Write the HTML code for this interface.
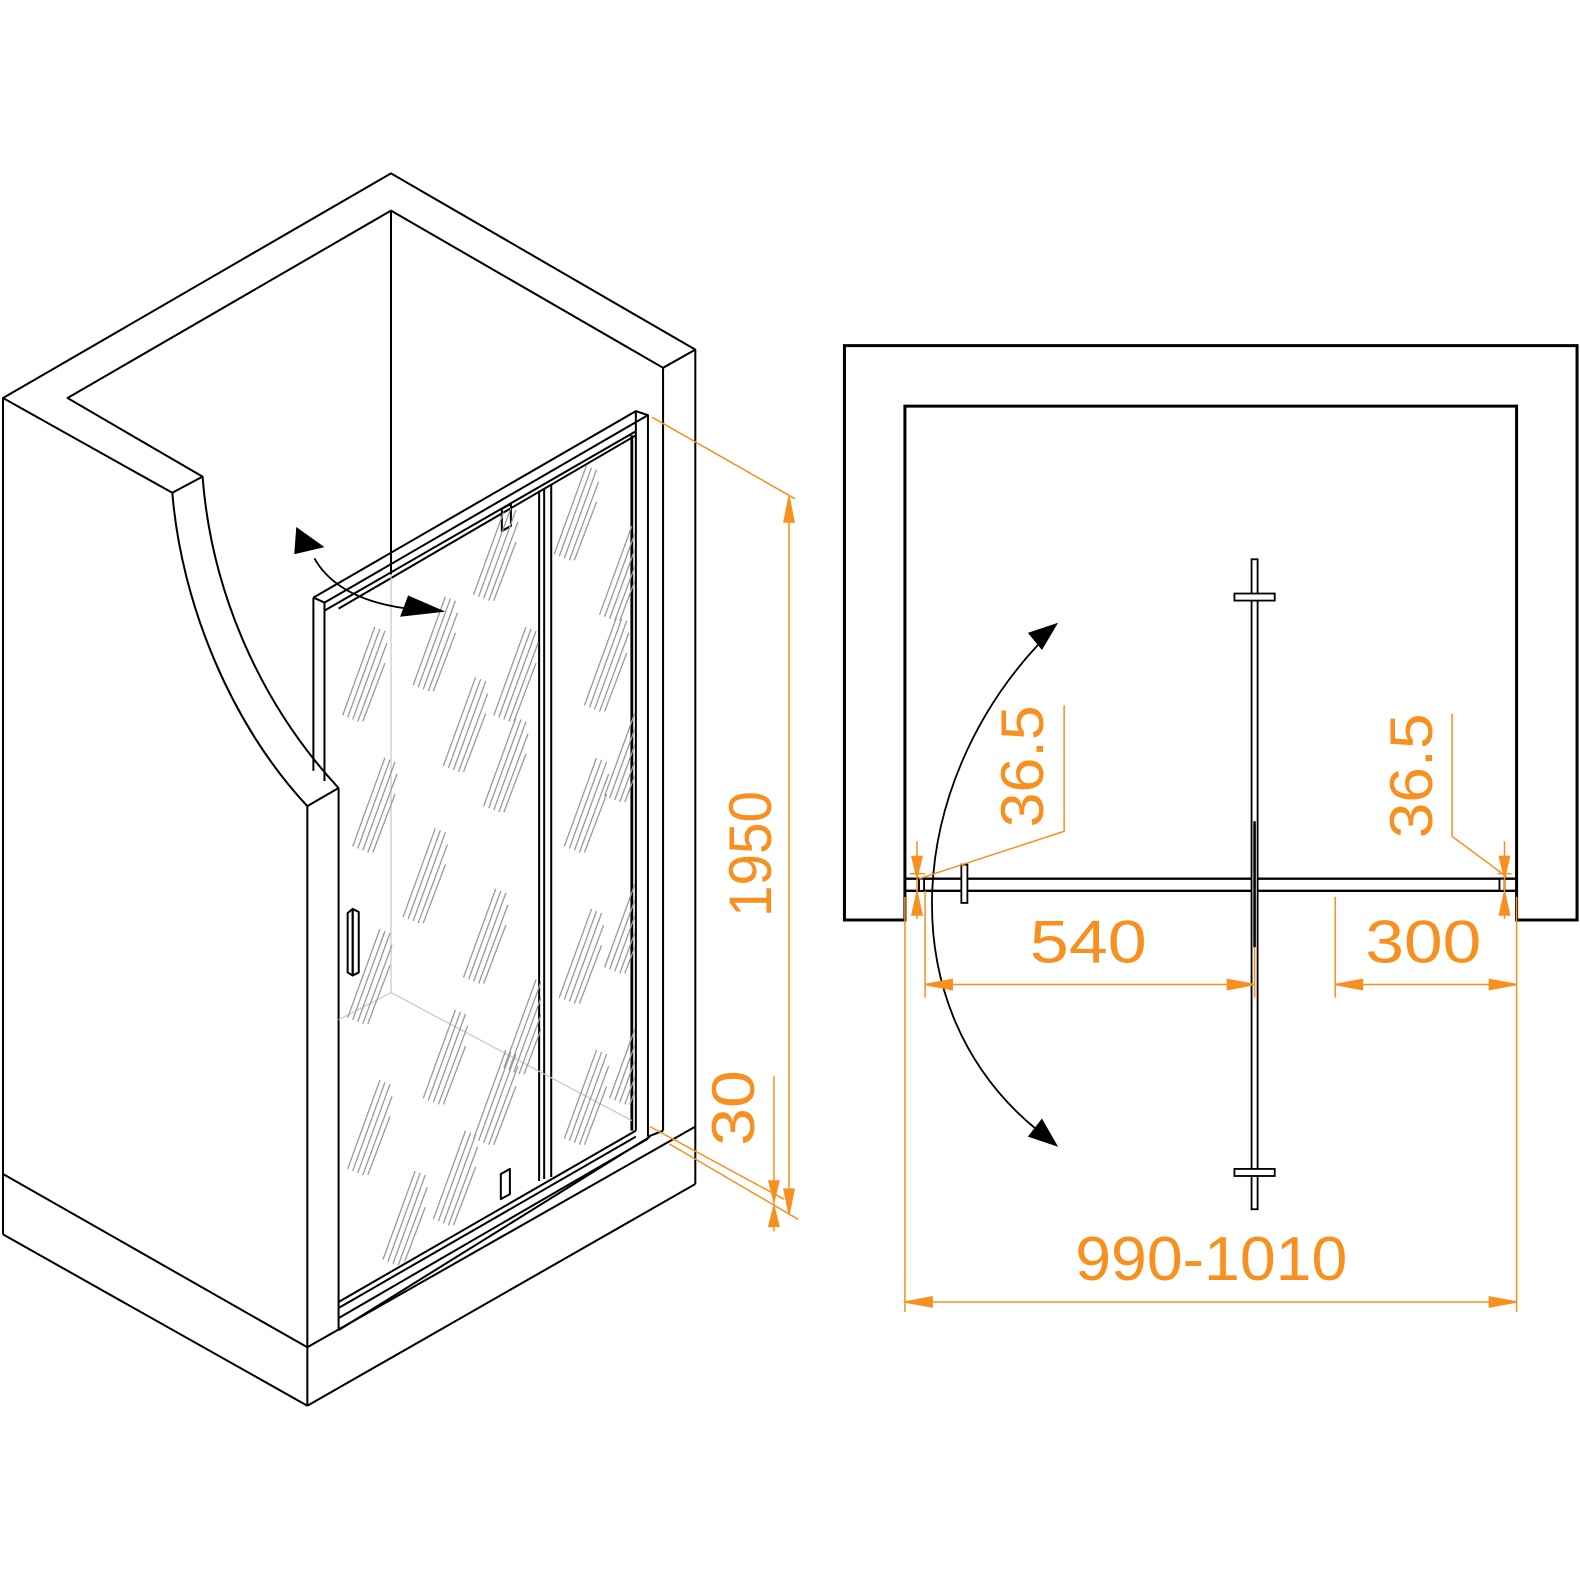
<!DOCTYPE html>
<html><head><meta charset="utf-8"><style>
html,body{margin:0;padding:0;background:#fff;}
svg{display:block;}
text{font-family:"Liberation Sans",sans-serif;fill:#f7901e;}
</style></head><body>
<svg width="1580" height="1580" viewBox="0 0 1580 1580" xmlns="http://www.w3.org/2000/svg">
<defs>
<g id="st" stroke="#9a9a9a" stroke-width="1.3">
<line x1="0" y1="0" x2="32" y2="-88"/><line x1="5" y1="2" x2="37" y2="-86"/><line x1="10" y1="4" x2="42" y2="-84"/><line x1="15" y1="6" x2="44" y2="-72"/><line x1="20" y1="6" x2="42" y2="-52"/>
</g>
<clipPath id="cl"><polygon points="337,602 537,487 537,1172 337,1290"/></clipPath>
<clipPath id="cr"><polygon points="547,481 630,433 630,1120 547,1166"/></clipPath>
</defs>
<g transform="scale(1.0077)">
<g fill="none" stroke="#000" stroke-width="2" stroke-linejoin="round">
<polyline points="3,1165 3,395 388,172 690,347 690,1175"/>
<polyline points="3,395 171,489 201,473 67,395 388,209 658,365 690,347"/>
<line x1="658" y1="365" x2="658" y2="1122"/>
<path d="M171,489 C180,600 230,720 305,800"/>
<path d="M201,473 C210,590 260,700 336,782"/>
<line x1="305" y1="800" x2="336" y2="782"/>
<line x1="305" y1="800" x2="305" y2="1395"/>
<line x1="336" y1="782" x2="336" y2="1320"/>
<line x1="388" y1="209" x2="388" y2="570"/>
<line x1="3" y1="1165" x2="3" y2="1225"/>
<line x1="3" y1="1165" x2="305" y2="1337"/>
<line x1="3" y1="1225" x2="305" y2="1395"/>
<line x1="305" y1="1395" x2="690" y2="1175"/>
<line x1="305" y1="1337" x2="690" y2="1118"/>
<line x1="336" y1="1320" x2="645" y2="1128"/>
<line x1="643" y1="1128" x2="658" y2="1122"/>
<polyline points="311,593 311,765"/>
<polyline points="322,597 322,775"/>
<polyline points="311,593 631,408 643,412 322,598 311,593"/>
<line x1="322" y1="606" x2="631" y2="428"/>
<line x1="336" y1="604" x2="631" y2="432"/>
<line x1="631" y1="408" x2="631" y2="1122"/>
<line x1="643" y1="412" x2="643" y2="1128"/>
<line x1="627" y1="432" x2="627" y2="1122" stroke-width="2.8"/>
<line x1="535" y1="487" x2="535" y2="1172"/>
<line x1="540" y1="485" x2="540" y2="1170"/>
<line x1="547" y1="481" x2="547" y2="1168"/>
<line x1="336" y1="1292" x2="631" y2="1122"/>
<line x1="336" y1="1298" x2="631" y2="1128"/>
<line x1="336" y1="1308" x2="643" y2="1130"/>
<polygon points="497,1165 506,1160 506,1185 497,1190"/>
<polygon points="498,505 507,500 507,522 498,527"/>
<polygon points="350,902 356,905 356,965 350,968"/>
<polygon points="345,906 350,902 350,968 345,965"/>
</g>
<g stroke="#c8c8c8" stroke-width="1.2" fill="none">
<line x1="388" y1="570" x2="388" y2="985"/>
<line x1="388" y1="985" x2="627" y2="1112"/>
<line x1="388" y1="985" x2="336" y2="1012"/>
</g>
<g clip-path="url(#cl)">
<use href="#st" x="340" y="710"/><use href="#st" x="350" y="840"/><use href="#st" x="345" y="1010"/><use href="#st" x="345" y="1160"/>
<use href="#st" x="410" y="680"/><use href="#st" x="400" y="910"/><use href="#st" x="420" y="1090"/><use href="#st" x="380" y="1250"/>
<use href="#st" x="470" y="590"/><use href="#st" x="490" y="710"/><use href="#st" x="480" y="800"/><use href="#st" x="460" y="970"/>
<use href="#st" x="470" y="1130"/><use href="#st" x="500" y="1060"/><use href="#st" x="430" y="1210"/><use href="#st" x="440" y="760"/>
</g>
<g clip-path="url(#cr)">
<use href="#st" x="550" y="550"/><use href="#st" x="595" y="610"/><use href="#st" x="580" y="700"/><use href="#st" x="560" y="840"/>
<use href="#st" x="600" y="790"/><use href="#st" x="555" y="990"/><use href="#st" x="600" y="960"/><use href="#st" x="560" y="1130"/><use href="#st" x="605" y="1090"/>
</g>
<path d="M312,554 Q335,595 405,604" fill="none" stroke="#000" stroke-width="1.8"/>
<polygon points="294,523 322,543 292,550" fill="#000"/>
<polygon points="397,612 442,607 405,591" fill="#000"/>
<g stroke="#f7901e" stroke-width="1.5" fill="#f7901e">
<line x1="647" y1="414" x2="789" y2="495"/>
<line x1="783" y1="493" x2="783" y2="1205"/>
<polygon points="783,493 778,518 788,518"/>
<polygon points="783,1205 778,1180 788,1180"/>
<line x1="645" y1="1118" x2="778" y2="1190"/>
<line x1="664" y1="1135" x2="792" y2="1210"/>
<line x1="768" y1="1068" x2="768" y2="1222"/>
<polygon points="768,1192 763,1172 773,1172"/>
<polygon points="768,1197 763,1217 773,1217"/>
</g>
<text transform="translate(765,910) rotate(-90)" font-size="60" textLength="125" lengthAdjust="spacingAndGlyphs">1950</text>
<text transform="translate(748,1137) rotate(-90)" font-size="60" textLength="75" lengthAdjust="spacingAndGlyphs">30</text>
<polygon points="838,343 1565,343 1565,913 1505,913 1505,403 898,403 898,913 838,913" fill="none" stroke="#000" stroke-width="3"/>
<g fill="none" stroke="#000" stroke-width="2.4">
<line x1="898" y1="872" x2="1505" y2="872"/>
<line x1="898" y1="884" x2="1505" y2="884"/>
</g>
<g fill="#fff" stroke="#000" stroke-width="1.8">
<rect x="912" y="872" width="5" height="12"/>
<rect x="1488" y="872" width="5" height="12"/>
<rect x="954" y="858" width="6" height="38"/>
<rect x="1242" y="555" width="6" height="645"/>
<rect x="1225" y="589" width="40" height="7"/>
<rect x="1225" y="1160" width="40" height="7"/>
</g>
<line x1="1245" y1="815" x2="1245" y2="940" stroke="#000" stroke-width="2.5"/>
<path d="M1030,640 C900,780 880,1000 1030,1122" fill="none" stroke="#000" stroke-width="1.8"/>
<polygon points="1050,618 1020,628 1034,645" fill="#000"/>
<polygon points="1050,1138 1020,1128 1034,1110" fill="#000"/>
<g stroke="#f7901e" stroke-width="1.5" fill="#f7901e">
<line x1="898" y1="890" x2="898" y2="1302"/>
<line x1="1505" y1="890" x2="1505" y2="1302"/>
<line x1="918" y1="884" x2="918" y2="990"/>
<line x1="1245" y1="940" x2="1245" y2="990"/>
<line x1="1325" y1="890" x2="1325" y2="990"/>
<line x1="918" y1="977" x2="1245" y2="977"/>
<polygon points="918,977 945,972 945,982"/><polygon points="1245,977 1218,972 1218,982"/>
<line x1="1325" y1="977" x2="1505" y2="977"/>
<polygon points="1325,977 1352,972 1352,982"/><polygon points="1505,977 1478,972 1478,982"/>
<line x1="898" y1="1292" x2="1505" y2="1292"/>
<polygon points="898,1292 925,1287 925,1297"/><polygon points="1505,1292 1478,1287 1478,1297"/>
<polyline points="1056,700 1056,825 912,872" fill="none"/>
<polyline points="1441,708 1441,830 1495,870" fill="none"/>
<line x1="910" y1="835" x2="910" y2="912"/>
<polygon points="910,871 905,850 915,850"/><polygon points="910,885 905,908 915,908"/>
<line x1="903" y1="867" x2="918" y2="867"/>
<line x1="1493" y1="835" x2="1493" y2="912"/>
<polygon points="1493,871 1488,850 1498,850"/><polygon points="1493,885 1488,908 1498,908"/>
<line x1="1486" y1="867" x2="1500" y2="867"/>
</g>
<text x="1022" y="955" font-size="60" textLength="116" lengthAdjust="spacingAndGlyphs">540</text>
<text x="1355" y="955" font-size="60" textLength="115" lengthAdjust="spacingAndGlyphs">300</text>
<text x="1067" y="1270" font-size="62" textLength="270" lengthAdjust="spacingAndGlyphs">990-1010</text>
<text transform="translate(1035,821) rotate(-90)" font-size="60" textLength="121" lengthAdjust="spacingAndGlyphs">36.5</text>
<text transform="translate(1421,832) rotate(-90)" font-size="60" textLength="124" lengthAdjust="spacingAndGlyphs">36.5</text>
</g>
</svg>
</body></html>
